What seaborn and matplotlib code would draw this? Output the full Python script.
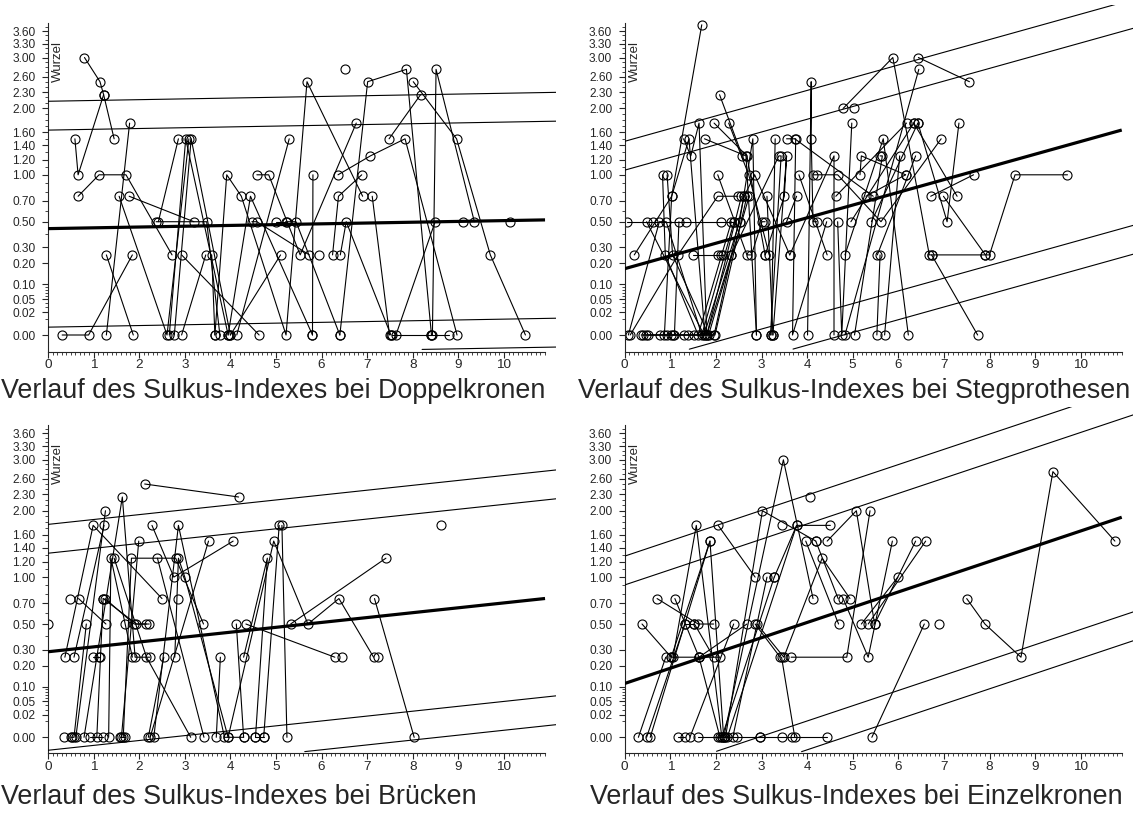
import numpy as np
import pandas as pd
import matplotlib
matplotlib.use("Agg")
import matplotlib.pyplot as plt
import seaborn as sns

# Verlauf je Patient: (Jahre seit Eingliederung, Sulkus-Index)
doppelkronen = [
    [(0.80, 3.0), (1.14, 2.5), (1.22, 2.25), (1.45, 1.5)],
    [(0.59, 1.5), (0.66, 1.0), (1.22, 2.25)],
    [(0.66, 0.75), (1.12, 1.0), (1.71, 1.0), (2.72, 0.25)],
    [(0.31, 0.0), (0.89, 0.0), (1.85, 0.25)],
    [(1.28, 0.25), (1.87, 0.0)],
    [(1.28, 0.0), (1.79, 1.75)],
    [(1.56, 0.75), (2.61, 0.0), (3.09, 1.5)],
    [(1.78, 0.75), (3.20, 0.5)],
    [(2.37, 0.5), (3.48, 0.5), (3.77, 0.0)],
    [(2.42, 0.5), (2.86, 1.5)],
    [(2.66, 0.0), (3.02, 1.5), (3.95, 0.0)],
    [(2.77, 0.0), (3.14, 1.5), (4.00, 0.0)],
    [(2.93, 0.25), (4.63, 0.0)],
    [(2.93, 0.0), (3.46, 0.25)],
    [(3.59, 0.25), (3.66, 0.0)],
    [(3.66, 0.0), (3.92, 1.0), (4.24, 0.75), (5.22, 0.0), (5.68, 2.5), (6.90, 0.75)],
    [(3.95, 0.0), (4.44, 0.75), (5.80, 0.0)],
    [(4.14, 0.0), (5.29, 1.5)],
    [(4.00, 0.0), (5.10, 0.25)],
    [(4.47, 0.5), (4.58, 0.5), (5.73, 0.25)],
    [(4.58, 1.0), (4.84, 1.0), (5.53, 0.25), (6.76, 1.75)],
    [(4.99, 0.5), (5.24, 0.5)],
    [(5.21, 0.5), (5.44, 0.5), (6.40, 0.0)],
    [(5.81, 1.0), (5.80, 0.0)],
    [(5.94, 0.25)],
    [(6.24, 0.25), (6.37, 0.75), (6.88, 1.0)],
    [(6.41, 0.25), (6.54, 0.5), (7.52, 0.0)],
    [(6.40, 0.0), (7.01, 2.5), (7.86, 2.75), (8.41, 0.0)],
    [(6.36, 1.0), (7.07, 1.25), (7.83, 1.5), (8.97, 0.0)],
    [(7.11, 0.75), (7.49, 0.0)],
    [(6.52, 2.75)],
    [(7.48, 1.5), (8.17, 2.25)],
    [(7.63, 0.0), (8.49, 0.5)],
    [(7.55, 0.0), (8.41, 0.0), (8.80, 0.0)],
    [(8.43, 0.0), (8.51, 2.75), (9.35, 0.5)],
    [(8.01, 2.5), (8.96, 1.5), (9.70, 0.25), (10.47, 0.0)],
    [(9.11, 0.5)],
    [(10.13, 0.5)],
]

stegprothesen = [
    [(0.87, 0.0), (1.03, 0.75), (1.69, 3.75)],
    [(0.04, 0.5), (0.61, 0.5), (1.34, 0.5), (2.12, 0.5), (2.40, 0.5)],
    [(0.21, 0.25), (1.03, 0.75), (1.41, 1.5), (1.76, 0.0)],
    [(0.12, 0.0), (1.17, 0.25), (2.04, 0.75), (2.48, 0.75)],
    [(0.48, 0.5), (1.74, 0.0), (2.52, 0.5)],
    [(0.36, 0.0), (0.47, 0.0), (0.93, 0.0), (1.31, 0.0), (1.80, 0.0), (2.56, 0.75)],
    [(0.41, 0.0), (0.77, 0.0), (1.38, 0.0), (1.96, 0.0), (2.62, 0.75)],
    [(0.52, 0.0), (1.01, 0.0), (1.53, 0.0), (1.98, 0.0), (2.68, 0.75)],
    [(0.08, 0.0), (0.76, 0.5), (0.91, 0.5), (1.69, 0.0), (2.40, 0.5)],
    [(0.83, 1.0), (0.89, 0.25), (1.61, 0.0), (2.34, 0.5)],
    [(0.93, 1.0), (1.05, 0.25), (1.84, 0.0), (2.73, 0.75)],
    [(1.29, 1.5), (1.45, 1.25), (1.63, 1.75), (1.80, 0.0), (2.34, 0.25)],
    [(1.49, 0.25), (2.04, 0.25), (2.11, 0.25), (2.16, 0.25)],
    [(1.75, 1.5), (2.66, 1.25), (2.89, 0.0)],
    [(1.96, 1.75), (2.68, 1.25), (3.08, 0.25)],
    [(2.08, 2.25), (2.58, 1.25)],
    [(2.28, 1.75), (2.72, 1.0), (3.17, 0.25)],
    [(1.05, 0.0), (1.09, 0.0), (1.19, 0.5)],
    [(2.52, 0.5), (2.81, 1.5), (2.89, 0.0)],
    [(2.62, 0.75), (2.85, 1.0), (3.62, 0.25)],
    [(2.04, 1.0), (2.68, 0.25), (2.78, 0.25), (3.01, 0.5), (3.08, 0.5)],
    [(3.12, 0.75), (3.25, 0.0)],
    [(3.30, 1.5), (3.21, 0.0)],
    [(2.34, 0.25), (3.38, 1.25), (3.43, 1.25), (3.20, 0.0)],
    [(3.08, 0.25), (3.50, 0.75), (3.55, 1.25), (3.25, 0.0)],
    [(3.73, 1.5), (5.45, 0.75)],
    [(3.55, 1.5), (3.75, 1.5), (3.68, 0.0), (4.43, 0.5)],
    [(3.55, 0.5), (3.77, 0.75)],
    [(4.01, 0.0), (4.09, 2.5), (4.09, 1.5), (4.13, 0.5), (4.21, 0.5)],
    [(4.13, 1.0), (4.21, 1.0), (4.67, 1.0), (5.62, 0.5), (6.94, 1.5)],
    [(3.62, 0.25), (4.59, 1.25), (4.59, 0.0)],
    [(3.82, 1.0), (4.44, 0.25)],
    [(4.67, 0.5), (4.76, 0.0), (4.98, 1.75)],
    [(4.63, 0.75), (6.18, 1.75)],
    [(4.83, 0.25), (5.67, 1.5), (6.22, 0.0)],
    [(4.96, 0.5), (6.34, 1.75)],
    [(4.79, 2.0), (5.88, 3.0), (6.68, 0.25), (6.73, 0.25), (7.91, 0.25)],
    [(4.83, 0.0), (6.45, 2.75)],
    [(5.02, 2.0)],
    [(6.44, 3.0), (7.56, 2.5)],
    [(5.04, 0.0), (5.65, 1.25), (5.60, 1.25)],
    [(5.16, 1.0), (5.19, 1.25), (6.16, 1.0)],
    [(6.73, 0.25), (7.74, 0.0)],
    [(6.99, 0.75), (7.91, 0.25), (8.00, 0.25), (8.56, 1.0), (9.71, 1.0)],
    [(6.43, 1.75), (7.07, 0.5), (7.33, 1.75)],
    [(6.34, 1.75), (7.29, 0.75)],
    [(5.29, 0.75), (6.16, 1.0)],
    [(5.54, 0.25), (6.38, 1.25)],
    [(5.70, 0.0), (6.03, 1.25)],
    [(5.53, 0.0), (5.60, 0.25)],
    [(5.41, 0.5), (6.43, 1.75)],
    [(6.71, 0.75), (7.65, 1.0)],
]

bruecken = [
    [(2.12, 2.5), (4.18, 2.25)],
    [(0.79, 0.0), (1.63, 2.25), (1.91, 0.25), (2.23, 0.25)],
    [(0.61, 0.0), (1.26, 2.0)],
    [(0.37, 0.25), (0.99, 1.75), (2.50, 0.75)],
    [(0.57, 0.25), (1.23, 1.75)],
    [(1.21, 0.75), (1.94, 0.5), (2.16, 0.5)],
    [(1.25, 0.75), (1.89, 0.5), (2.22, 0.5)],
    [(0.67, 0.75), (1.27, 0.5)],
    [(0.49, 0.75)],
    [(0.50, 0.0), (0.53, 0.0), (0.57, 0.0), (0.84, 0.5)],
    [(0.99, 0.25), (1.11, 0.25), (1.13, 0.25)],
    [(1.07, 0.0), (1.21, 0.75)],
    [(1.33, 0.0), (1.38, 1.25), (1.85, 0.25)],
    [(1.45, 1.25), (2.16, 0.25), (3.13, 0.0)],
    [(1.65, 0.0), (1.83, 1.25), (2.80, 1.25), (3.41, 0.5)],
    [(2.28, 1.75), (2.76, 1.0), (4.06, 1.5)],
    [(2.32, 0.0), (2.86, 1.75), (3.87, 0.0), (4.29, 0.0)],
    [(1.61, 0.0), (1.99, 1.5)],
    [(2.24, 0.0), (3.52, 1.5)],
    [(2.40, 1.25), (3.42, 0.0)],
    [(2.78, 0.25), (2.86, 1.25), (3.00, 1.0), (3.95, 0.0)],
    [(1.57, 0.0), (1.69, 0.0)],
    [(1.69, 0.5)],
    [(2.20, 0.0), (2.54, 0.25)],
    [(2.86, 0.75)],
    [(3.78, 0.25), (3.69, 0.0)],
    [(4.13, 0.5), (4.29, 0.0)],
    [(4.34, 0.5), (6.29, 0.25)],
    [(4.29, 0.25), (4.81, 1.25), (4.55, 0.0)],
    [(3.95, 0.0), (4.95, 1.5), (5.70, 0.5), (6.38, 0.75), (7.14, 0.25)],
    [(4.73, 0.0), (5.07, 1.75)],
    [(5.13, 1.75), (5.24, 0.0)],
    [(5.32, 0.5), (7.41, 1.25)],
    [(7.16, 0.75), (8.03, 0.0)],
    [(8.62, 1.75)],
    [(6.44, 0.25)],
    [(7.23, 0.25)],
    [(0.0, 0.5)],
    [(0.93, 0.0), (1.21, 0.0)],
    [(4.55, 0.0), (4.73, 0.0)],
    [(0.36, 0.0)],
]

einzelkronen = [
    [(2.17, 0.0), (3.48, 3.0), (4.13, 0.75)],
    [(2.21, 0.0), (3.02, 2.0), (4.19, 1.5)],
    [(2.25, 0.0), (3.77, 1.75), (4.51, 1.75)],
    [(3.44, 1.75)],
    [(4.06, 2.25)],
    [(2.05, 1.75), (2.86, 1.0)],
    [(1.06, 0.25), (1.57, 1.75), (2.13, 0.0)],
    [(1.02, 0.25), (1.87, 1.5), (2.17, 0.0)],
    [(0.71, 0.75), (1.61, 0.5), (1.95, 0.5)],
    [(1.10, 0.75), (1.63, 0.25), (2.09, 0.0)],
    [(0.38, 0.5), (1.02, 0.25), (1.63, 0.25), (2.09, 0.25)],
    [(0.30, 0.0), (0.90, 0.25)],
    [(0.48, 0.0), (1.32, 0.5)],
    [(0.56, 0.0), (1.87, 1.5)],
    [(2.39, 0.5), (1.43, 0.0)],
    [(2.68, 0.5), (1.63, 0.25)],
    [(2.86, 0.5), (3.41, 0.25)],
    [(2.90, 0.5), (3.49, 0.25), (4.33, 1.25), (4.94, 0.75)],
    [(2.37, 0.0), (3.12, 1.0)],
    [(3.28, 1.0), (3.77, 1.75)],
    [(3.65, 0.25), (4.87, 0.25), (5.38, 2.0)],
    [(3.44, 0.25), (3.73, 0.0)],
    [(2.96, 0.0), (3.44, 0.0), (3.67, 0.0), (4.43, 0.0)],
    [(3.97, 1.5), (4.69, 0.5)],
    [(4.44, 1.5), (5.08, 2.0), (5.48, 0.5)],
    [(4.79, 0.75), (5.34, 0.25), (5.87, 1.5)],
    [(5.19, 0.5), (5.99, 1.0)],
    [(5.48, 0.5), (6.38, 1.5)],
    [(5.34, 0.5), (6.60, 1.5)],
    [(5.42, 0.0), (6.57, 0.5)],
    [(6.89, 0.5)],
    [(7.50, 0.75), (7.90, 0.5), (8.69, 0.25), (9.39, 2.75), (10.75, 1.5)],
    [(1.60, 0.0), (2.05, 0.0), (2.46, 0.0), (2.96, 0.0)],
    [(1.16, 0.0), (1.32, 0.0)],
    [(2.13, 0.0), (3.28, 1.0)],
    [(1.53, 0.5), (1.95, 0.25)],
    [(4.19, 1.5), (4.68, 0.75)],
    [(1.32, 0.5), (1.53, 0.5)],
]

# Regressionsgerade im Wurzelmaßstab: (Achsenabschnitt, Steigung pro Jahr)
fit_doppelkronen = (0.664, 0.0050)
fit_stegprothesen = (0.414, 0.0794)
fit_bruecken = (0.534, 0.0305)
fit_einzelkronen = (0.336, 0.0952)

# halbe Breite der Vorhersagebänder im Wurzelmaßstab (95 %, 99 %)
band_halfwidths = [0.615, 0.795]

titles = [
    "Verlauf des Sulkus-Indexes bei Doppelkronen",
    "Verlauf des Sulkus-Indexes bei Stegprothesen",
    "Verlauf des Sulkus-Indexes bei Brücken",
    "Verlauf des Sulkus-Indexes bei Einzelkronen",
]

y_tick_values = [0.00, 0.02, 0.05, 0.10, 0.20, 0.30, 0.50, 0.70, 1.00, 1.20,
                 1.40, 1.60, 2.00, 2.30, 2.60, 3.00, 3.30, 3.60]
x_tick_values = [0, 1, 2, 3, 4, 5, 6, 7, 8, 9, 10]
y_axis_label = "Wurzel"

sns.set_theme(style="ticks")
plt.rcParams["font.family"] = ["Liberation Sans", "DejaVu Sans"]
plt.rcParams["axes.linewidth"] = 0.8

W, H = 1137, 818
fig = plt.figure(figsize=(W / 100, H / 100), dpi=100)
fig.patch.set_facecolor("white")

X_MAX, X_AXIS_END = 11.15, 10.9
Y_TOP, Y_SPINE_TOP, BAND_FLOOR = 2.06, 1.948, -0.09
PX_X, PX_Y = 45.6, 160.2

# (Datensatz, Regression, Titel, x-Position der y-Achse, y-Pixel der Null, y-Pixel der x-Achse, Titel-x, Titel-y)
panels = [
    (doppelkronen, fit_doppelkronen, titles[0], 48.0, 335.0, 351.7, 1, 391),
    (stegprothesen, fit_stegprothesen, titles[1], 624.7, 335.0, 351.7, 578, 391),
    (bruecken, fit_bruecken, titles[2], 48.0, 737.3, 753.3, 1, 797),
    (einzelkronen, fit_einzelkronen, titles[3], 624.7, 737.3, 753.3, 590, 797),
]

minor_y = [v for v in np.r_[np.arange(0.01, 0.1, 0.01), np.arange(0.1, 3.75, 0.1)]
           if not np.any(np.isclose(v, y_tick_values))]

for tracks, fit, title, x0_px, zero_px, axis_px, tx, ty in panels:
    y_bottom = -(axis_px - zero_px) / PX_Y
    top_px = zero_px - Y_TOP * PX_Y
    ax = fig.add_axes([x0_px / W, (H - axis_px) / H,
                       X_MAX * PX_X / W, (axis_px - top_px) / H])

    rows = []
    for pid, track in enumerate(tracks):
        for t, si in track:
            rows.append((pid, t, si))
    df = pd.DataFrame(rows, columns=["patient", "jahre", "si"])
    df["wurzel"] = np.sqrt(df["si"])

    sns.lineplot(data=df, x="jahre", y="wurzel", units="patient", estimator=None,
                 sort=False, color="black", linewidth=0.8, marker="o",
                 markersize=6.5, markerfacecolor="none", markeredgecolor="black",
                 markeredgewidth=0.8, legend=False, ax=ax)

    a, b = fit
    xr = np.linspace(0, X_AXIS_END, 60)
    ax.plot(xr, a + b * xr, color="black", lw=2.3, solid_capstyle="butt", zorder=4)
    xb = np.linspace(0, X_MAX, 300)
    for hw in band_halfwidths:
        for sgn in (1, -1):
            yb = a + b * xb + sgn * hw
            yb = np.where(yb < BAND_FLOOR, np.nan, yb)
            ax.plot(xb, yb, color="black", lw=0.8, zorder=3)

    ax.set_xlim(0, X_MAX)
    ax.set_ylim(y_bottom, Y_TOP)
    ax.set_facecolor("none")
    for side in ("top", "right"):
        ax.spines[side].set_visible(False)
    ax.spines["left"].set_bounds(y_bottom, Y_SPINE_TOP)
    ax.spines["bottom"].set_bounds(0, X_AXIS_END)

    ax.set_xticks(x_tick_values)
    ax.set_xticklabels([str(v) for v in x_tick_values])
    ax.set_xticks(np.arange(0, X_AXIS_END + 0.001, 0.1), minor=True)
    ax.set_yticks(np.sqrt(y_tick_values))
    ax.set_yticklabels([f"{v:.2f}" for v in y_tick_values])
    ax.set_yticks(np.sqrt(minor_y), minor=True)
    ax.tick_params(axis="y", which="major", length=4, width=0.8, labelsize=8.6, pad=5)
    ax.tick_params(axis="x", which="major", length=4, width=0.8, labelsize=9.7, pad=1.5)
    ax.tick_params(which="minor", length=2.2, width=0.6)
    ax.set_xlabel("")
    ax.set_ylabel("")
    ax.text(0.22, 1.71, y_axis_label, rotation=90, ha="center", va="center",
            fontsize=9.5)

    fig.text(tx / W, 1 - ty / H, title, ha="left", va="center", fontsize=19.4)

fig.savefig("out.png", dpi=100, facecolor="white")
